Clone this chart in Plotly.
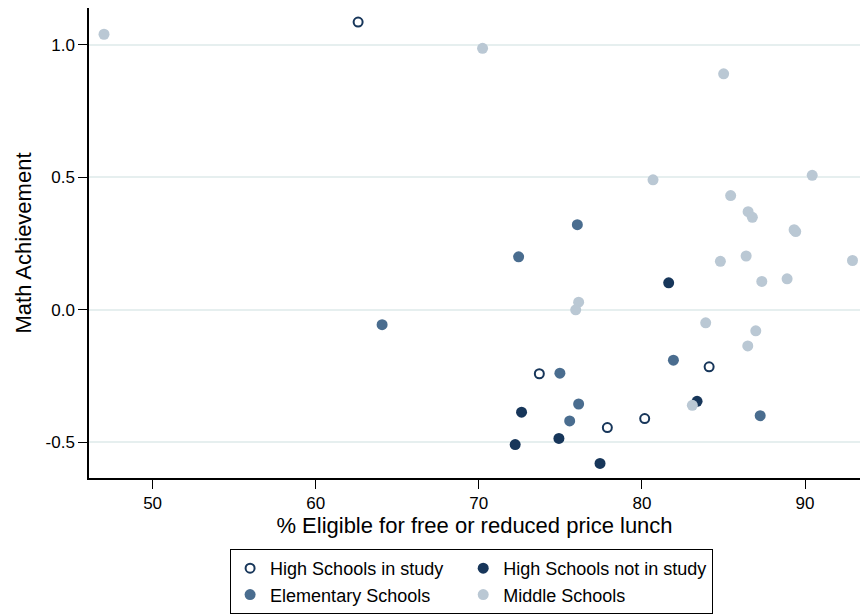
import plotly.graph_objects as go

# High Schools in study (hollow)
hs_in_x = [62.6, 73.71, 84.12, 77.88, 80.17]
hs_in_y = [1.085, -0.241, -0.215, -0.444, -0.410]

# High Schools not in study
hs_out_x = [81.64, 83.38, 72.62, 72.23, 74.91, 77.43]
hs_out_y = [0.102, -0.345, -0.386, -0.508, -0.485, -0.579]

# Elementary Schools
el_x = [72.44, 76.04, 64.07, 74.97, 76.12, 75.57, 81.93, 87.25]
el_y = [0.200, 0.321, -0.056, -0.239, -0.355, -0.419, -0.190, -0.399]

# Middle Schools
ms_x = [47.02, 70.23, 85.01, 80.68, 90.44, 85.44, 86.51, 86.77, 89.33, 89.43,
        84.81, 86.39, 92.91, 87.35, 88.90, 76.12, 75.94, 83.91, 86.98, 86.49, 83.09]
ms_y = [1.039, 0.986, 0.890, 0.490, 0.507, 0.431, 0.370, 0.349, 0.302, 0.295,
        0.183, 0.203, 0.186, 0.107, 0.117, 0.029, 0.000, -0.049, -0.079, -0.136, -0.360]

series_names = ["High Schools in study", "High Schools not in study",
                "Elementary Schools", "Middle Schools"]

x_ticks = [50, 60, 70, 80, 90]
y_ticks = [-0.5, 0.0, 0.5, 1.0]
y_tick_text = ["-0.5", "0.0", "0.5", "1.0"]

DARK = "#17365a"
MID = "#4a6d8f"
LIGHT = "#bac8d4"
FONT = "Liberation Sans, Arial, sans-serif"
PAD = "\u00a0\u00a0\u00a0"  # widens the first legend column

fig = go.Figure()
fig.add_trace(go.Scatter(x=el_x, y=el_y, mode="markers", name=series_names[2],
                         legendgroup="a", legendrank=2,
                         marker=dict(color=MID, size=11, line=dict(width=0))))
fig.add_trace(go.Scatter(x=hs_out_x, y=hs_out_y, mode="markers", name=series_names[1],
                         legendgroup="b", legendrank=3,
                         marker=dict(color=DARK, size=11, line=dict(width=0))))
fig.add_trace(go.Scatter(x=ms_x, y=ms_y, mode="markers", name=series_names[3],
                         legendgroup="b", legendrank=4,
                         marker=dict(color=LIGHT, size=11, line=dict(width=0))))
fig.add_trace(go.Scatter(x=hs_in_x, y=hs_in_y, mode="markers", name=series_names[0] + PAD,
                         legendgroup="a", legendrank=1,
                         marker=dict(color="white", size=9, line=dict(color=DARK, width=2))))

fig.update_layout(
    width=860, height=614,
    margin=dict(l=89, r=0, t=8, b=135),
    paper_bgcolor="white", plot_bgcolor="white",
    font=dict(family=FONT, color="black", size=17),
    showlegend=True,
    legend=dict(orientation="h", traceorder="grouped", x=0.183, xanchor="left",
                y=-0.151, yanchor="top",
                bordercolor="black", borderwidth=1, bgcolor="white",
                font=dict(family=FONT, size=18, color="black"),
                itemsizing="trace", tracegroupgap=0, groupclick="toggleitem"),
    xaxis=dict(range=[46.1, 93.37], tickvals=x_ticks, ticks="outside", ticklen=9,
               tickcolor="black", tickwidth=1.2, showline=True, linecolor="black", linewidth=1.5,
               showgrid=False, zeroline=False,
               tickfont=dict(family=FONT, size=17),
               title=dict(text="% Eligible for free or reduced price lunch",
                          font=dict(family=FONT, size=22), standoff=2)),
    yaxis=dict(range=[-0.634, 1.138], tickvals=y_ticks, ticktext=y_tick_text,
               ticks="outside", ticklen=9, tickcolor="black", tickwidth=1.2, showline=True,
               linecolor="black", linewidth=1.5, showgrid=True, gridcolor="#e6efef",
               gridwidth=2, zeroline=False,
               tickfont=dict(family=FONT, size=17),
               title=dict(text="Math Achievement", font=dict(family=FONT, size=22), standoff=8)),
)

fig.write_html("out.html", config={"displayModeBar": False},
               post_script="document.body.style.margin='0px';document.body.style.overflow='hidden';")
